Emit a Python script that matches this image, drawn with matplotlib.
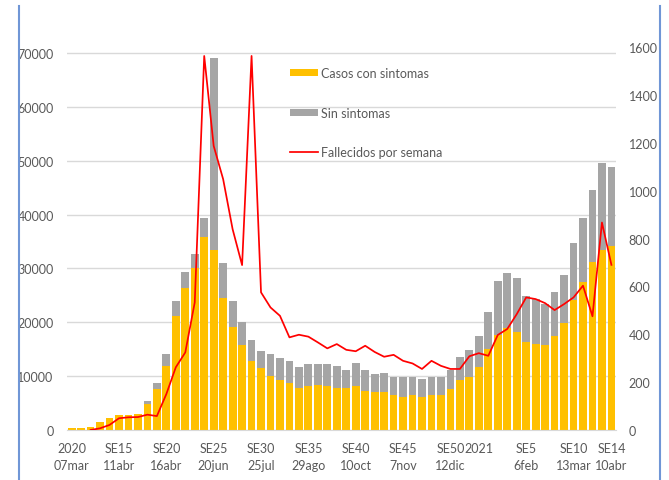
import numpy as np
import matplotlib
matplotlib.use("Agg")
import matplotlib.pyplot as plt
from matplotlib.lines import Line2D

plt.rcParams['font.family'] = ['Lato', 'DejaVu Sans']

# casos semanales (con / sin sintomas) y fallecidos por semana
con_sintomas = [300, 350, 600, 1400, 2300, 2800, 2800, 3000, 4800, 7700,
                11900, 21200, 26400, 30000, 35900, 33500, 24500, 19050, 15770, 12800,
                11450, 10050, 9280, 8700, 7850, 8100, 8350, 8100, 7850, 7850,
                8100, 7330, 7050, 7050, 6500, 6180, 6500, 6180, 6500, 6500,
                7600, 9200, 9770, 11630, 15030, 17630, 18870, 18240, 16270, 15960,
                15770, 17380, 19850, 24180, 27400, 31230, 33450, 34190]
sin_sintomas = [0, 0, 0, 0, 0, 0, 0, 0, 650, 950,
                2200, 2700, 3000, 2650, 3500, 35650, 6500, 4850, 4330, 4000,
                3200, 4050, 4020, 4070, 3780, 4090, 3840, 4090, 4080, 3220,
                4390, 3770, 3280, 3530, 3270, 3590, 3270, 3280, 3270, 3270,
                3530, 4350, 5160, 5750, 6810, 10070, 10200, 10020, 8650, 8340,
                7610, 8170, 8970, 10640, 12000, 13350, 16090, 14730]
fallecidos = [np.nan, np.nan, 0, 7, 21, 49, 53, 54, 64, 58,
              150, 262, 324, 533, 1563, 1187, 1048, 839, 689, 1563,
              575, 512, 477, 387, 398, 390, 366, 341, 359, 335,
              329, 352, 326, 306, 314, 289, 278, 255, 289, 268,
              255, 255, 308, 321, 310, 397, 422, 484, 554, 547,
              530, 501, 526, 554, 603, 475, 867, 690]

etiquetas_pos = [0, 5, 10, 15, 20, 25, 30, 35, 40, 43, 48, 53, 57]
etiquetas = ["2020\n07mar", "SE15\n11abr", "SE20\n16abr", "SE25\n20jun", "SE30\n25jul",
             "SE35\n29ago", "SE40\n10oct", "SE45\n7nov", "SE50\n12dic", "2021\n",
             "SE5\n6feb", "SE10\n13mar", "SE14\n10abr"]

gris_txt = '#595959'
x = np.arange(len(con_sintomas))

fig = plt.figure(figsize=(6.69, 4.81), dpi=100)
ax = fig.add_axes([0.100, 0.104, 0.821, 0.796])

ax.bar(x, con_sintomas, width=0.82, color='#FFC000', label='Casos con sintomas', zorder=2)
ax.bar(x, sin_sintomas, width=0.82, bottom=con_sintomas, color='#A5A5A5',
       label='Sin sintomas', zorder=2)

ax.set_xlim(-0.5, len(x) - 0.5)
ax.set_ylim(0, 71114)
ax.set_yticks(range(0, 70001, 10000))
ax.yaxis.grid(True, color='#d9d9d9', linewidth=1, zorder=0)
ax.set_axisbelow(True)
for s in ['top', 'right', 'left']:
    ax.spines[s].set_visible(False)
ax.spines['bottom'].set_color('#d9d9d9')
ax.tick_params(axis='y', length=0, pad=9.5, labelsize=9, labelcolor=gris_txt)
ax.set_xticks(etiquetas_pos)
ax.set_xticklabels(etiquetas, linespacing=1.45)
ax.tick_params(axis='x', length=0, pad=9, labelsize=9, labelcolor=gris_txt)

ax2 = ax.twinx()
ax2.plot(x, fallecidos, color='#FF0000', linewidth=1.25, label='Fallecidos por semana', zorder=3)
ax2.set_ylim(0, 1600)
ax2.set_yticks(range(0, 1601, 200))
for s in ax2.spines.values():
    s.set_visible(False)
ax2.tick_params(axis='y', length=0, pad=9, labelsize=9, labelcolor=gris_txt)

h1, l1 = ax.get_legend_handles_labels()
h2, l2 = ax2.get_legend_handles_labels()
leg = ax2.legend(h1 + h2, l1 + l2, loc='upper left', bbox_to_anchor=(290 / 669, 1 - 68 / 481),
                 bbox_transform=fig.transFigure, frameon=False, fontsize=9,
                 handlelength=2.2, handleheight=0.5, handletextpad=0.3,
                 labelspacing=2.2, borderpad=0, borderaxespad=0)
for t in leg.get_texts():
    t.set_color(gris_txt)

# bordes azules de la imagen
for xp in [18.5 / 669, 659.5 / 669]:
    fig.add_artist(Line2D([xp, xp], [0, 1 - 7 / 481], color='#7096d6', linewidth=1.5))

fig.savefig('out.png', dpi=100)
